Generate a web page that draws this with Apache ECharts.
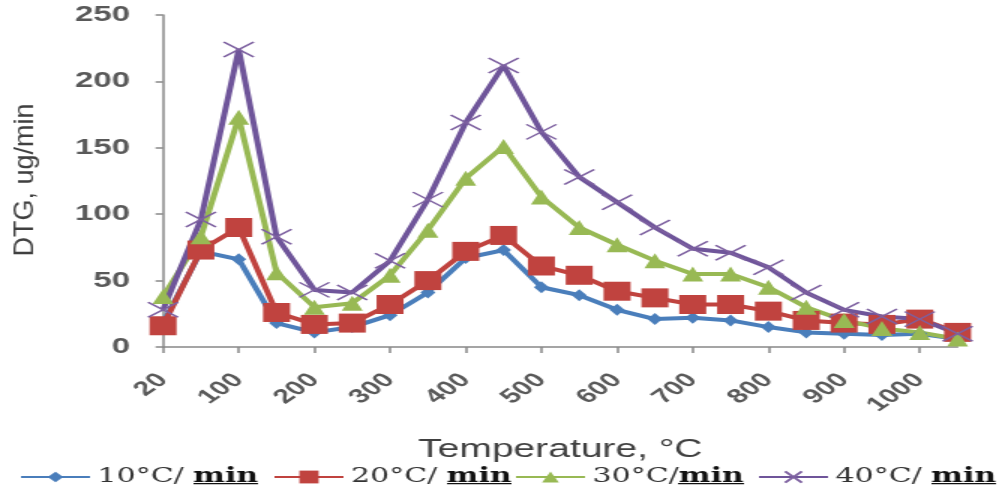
<!DOCTYPE html>
<html>
<head>
<meta charset="utf-8">
<script src="https://cdn.jsdelivr.net/npm/echarts@6/dist/echarts.min.js"></script>
<style>
  html, body { margin: 0; padding: 0; background: #fff; overflow: hidden; }
  /* the chart is laid out narrow and widened horizontally, like the original figure */
  #chart { width: 667px; height: 499px; transform: scaleX(1.5); transform-origin: 0 0; }
</style>
</head>
<body>
<div id="chart"></div>
<script>
// Temperature steps (°C); every second one carries a tick label
const temperatures = ['20', '60', '100', '150', '200', '250', '300', '350', '400', '450', '500',
                      '550', '600', '650', '700', '750', '800', '850', '900', '950', '1000', '1050'];

// DTG (ug/min) at each heating rate
const rate10 = [18, 72, 66, 18, 11, 15, 24, 41, 67, 73, 45, 39, 28, 21, 22, 20, 15, 11, 10, 9, 10, 6];
const rate20 = [16, 73, 90, 26, 17, 18, 32, 50, 72, 84, 61, 54, 42, 37, 32, 32, 27, 20, 18, 17, 21, 11];
const rate30 = [38, 83, 173, 56, 30, 33, 54, 88, 127, 151, 113, 90, 77, 65, 55, 55, 45, 30, 20, 14, 11, 6];
const rate40 = [28, 96, 224, 83, 43, 41, 65, 111, 169, 212, 162, 128, 109, 90, 74, 71, 60, 41, 28, 23, 21, 10];

const seriesNames = ['10°C/ min', '20°C/ min', '30°C/min', '40°C/ min'];

// thin bar image used as an underline behind the bold "min"
const underline = document.createElement('canvas');
underline.width = 4; underline.height = 30;
(function () {
  const c = underline.getContext('2d');
  c.fillStyle = '#111';
  c.fillRect(0, 24, 4, 2);
})();

const chart = echarts.init(document.getElementById('chart'));

function makeSeries(name, data, color, symbol, size, extraItem) {
  return {
    name: name,
    type: 'line',
    data: data,
    symbol: symbol,
    symbolSize: size,
    showAllSymbol: true,
    lineStyle: { color: color, width: 4 },
    itemStyle: Object.assign({ color: color }, extraItem || {}),
    emphasis: { disabled: true },
    animation: false
  };
}

const serif = 'DejaVu Serif';
const legendText = {
  color: '#222',
  fontFamily: serif,
  fontSize: 20,
  rich: {
    a: { fontFamily: serif, fontSize: 20, color: '#333', lineHeight: 30 },
    b: { fontFamily: serif, fontSize: 20, fontWeight: 'bold', color: '#111',
         lineHeight: 30, backgroundColor: { image: underline } }
  }
};
function legendFormatter(name) {
  return '{a|' + name.replace('min', '') + '}{b|min}';
}
const legendLefts = [13, 182, 343, 505];
const legendHeights = [13, 16, 14, 14];

const option = {
  backgroundColor: '#fff',
  animation: false,
  grid: { left: 108.7, right: 28.6, top: 15, bottom: 152, containLabel: false, outerBoundsMode: 'none' },
  legend: seriesNames.map(function (n, i) {
    return {
      data: [n], left: legendLefts[i], top: 467, padding: 0, itemGap: 0,
      itemWidth: 46, itemHeight: legendHeights[i],
      textStyle: legendText, formatter: legendFormatter
    };
  }),
  xAxis: {
    type: 'category',
    data: temperatures,
    boundaryGap: false,
    name: 'Temperature, °C',
    nameLocation: 'middle',
    nameGap: 90,
    nameTextStyle: { fontFamily: 'Liberation Sans', fontSize: 26, color: '#404040' },
    axisLine: { show: true, lineStyle: { color: '#888', width: 1.5 } },
    axisTick: { show: true, interval: 1, length: 6, lineStyle: { color: '#888', width: 1.5 } },
    axisLabel: { interval: 1, rotate: 45, margin: 30, fontFamily: 'Liberation Sans',
                 fontWeight: 'bold', fontSize: 20, color: '#595959' },
    splitLine: { show: false }
  },
  yAxis: {
    type: 'value',
    min: 0, max: 250, interval: 50,
    axisLine: { show: true, lineStyle: { color: '#888', width: 1.5 } },
    axisTick: { show: true, length: 5, lineStyle: { color: '#888', width: 1.5 } },
    axisLabel: { margin: 22, fontFamily: 'Liberation Sans', fontWeight: 'bold',
                 fontSize: 22, color: '#595959' },
    splitLine: { show: false }
  },
  graphic: [{
    type: 'text',
    x: 17, y: 180,
    rotation: Math.PI / 2,
    scaleY: 0.7,
    style: { text: 'DTG, ug/min', font: '27px "Liberation Sans"', fill: '#404040',
             align: 'center', verticalAlign: 'middle' }
  }],
  series: [
    makeSeries(seriesNames[0], rate10, '#4A7EBB', 'diamond', [10, 12]),
    makeSeries(seriesNames[1], rate20, '#C0433F', 'rect', [18, 19]),
    makeSeries(seriesNames[2], rate30, '#98B954', 'triangle', [14, 15]),
    makeSeries(seriesNames[3], rate40, '#6F559A', 'path://M0,0L20,20M20,0L0,20', [20, 15],
               { borderColor: '#7D60A0', borderWidth: 1.5 })
  ]
};
chart.setOption(option);
</script>
</body>
</html>
